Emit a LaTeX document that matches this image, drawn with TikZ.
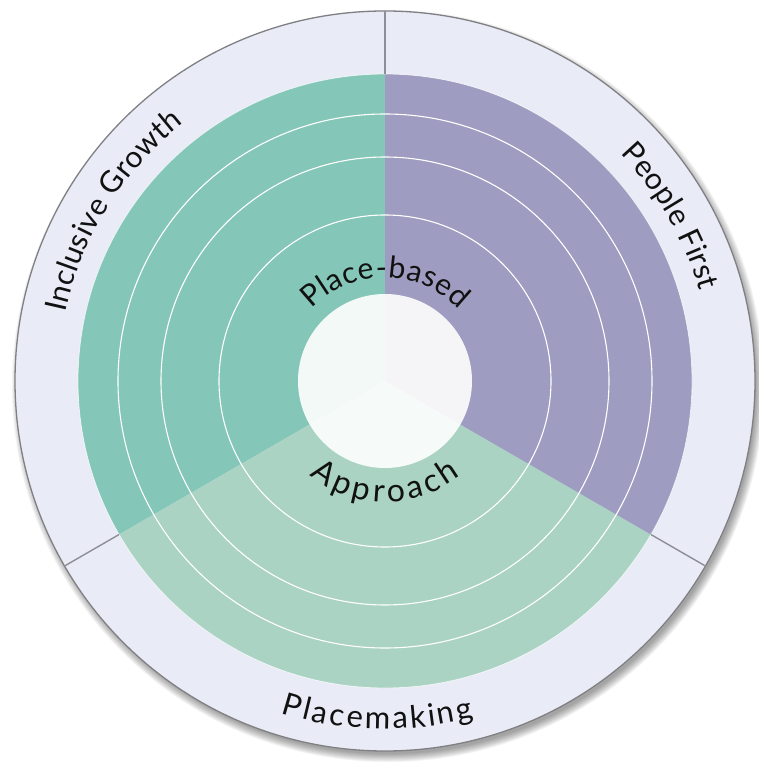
\documentclass[tikz,border=0pt]{standalone}
\usepackage{fontspec}
\usetikzlibrary{decorations.text}
\newfontfamily\lab{Lato}
\definecolor{ringbg}{HTML}{E9EBF6}
\definecolor{tealc}{HTML}{84C6B7}
\definecolor{purplec}{HTML}{9E9CC0}
\definecolor{greenc}{HTML}{AAD3C3}
\definecolor{edgec}{HTML}{808084}
\definecolor{divc}{HTML}{8E8E96}
\definecolor{txt}{HTML}{111111}
\tikzset{
  ringline/.style={draw=white, line width=1.1pt},
  divider/.style={draw=divc, line width=1.4pt},
  arctext/.style={decorate, decoration={text along path, text align=center, text color=txt}},
}
\begin{document}
\begin{tikzpicture}
\useasboundingbox (-385pt,-381pt) rectangle (374pt,381pt);
\coordinate (c) at (0,0);
% soft shadow
\foreach \k in {0,...,9}
  \fill[black, opacity=0.045] (3pt,-5pt) circle[radius={368pt+\k*0.9pt}];
% outer ring
\fill[ringbg] (c) circle[radius=370pt];
\draw[edgec, line width=1.3pt] (c) circle[radius=370pt];
% sectors
\fill[tealc] (c) -- (90:307pt) arc[start angle=90, end angle=210, radius=307pt] -- cycle;
\fill[greenc] (c) -- (210:307pt) arc[start angle=210, end angle=330, radius=307pt] -- cycle;
\fill[purplec] (c) -- (330:307pt) arc[start angle=330, end angle=450, radius=307pt] -- cycle;
\draw[white, opacity=0.7, line width=0.8pt] (c) circle[radius=307pt];
% rings
\foreach \r in {267,224,166}
  \draw[ringline] (c) circle[radius=\r pt];
% centre
\fill[white, opacity=0.9] (c) circle[radius=87pt];
% dividers
\coordinate (d1a) at (90:307pt);  \coordinate (d1b) at (90:370pt);
\coordinate (d2a) at (210:307pt); \coordinate (d2b) at (210:370pt);
\coordinate (d3a) at (330:307pt); \coordinate (d3b) at (330:370pt);
\draw[divider] (d1a) -- (d1b);
\draw[divider] (d2a) -- (d2b);
\draw[divider] (d3a) -- (d3b);
% texts
\path[arctext, decoration={text={|\lab\fontsize{30}{36}\selectfont\kern0.3pt|Inclusive Growth}}]
  (198:327pt) arc[start angle=198, end angle=98, radius=327pt];
\path[arctext, decoration={text={|\lab\fontsize{30}{36}\selectfont\kern0.3pt|People First}}]
  (80:327pt) arc[start angle=80, end angle=-20, radius=327pt];
\path[arctext, decoration={text={|\lab\fontsize{31}{36}\selectfont\kern2.6pt|Placemaking}}]
  (218.5:348pt) arc[start angle=218.5, end angle=318.5, radius=348pt];
\path[arctext, decoration={text={|\lab\fontsize{30}{34}\selectfont\kern0.6pt|Place-based}}]
  (175:103pt) arc[start angle=175, end angle=5, radius=103pt];
\path[arctext, decoration={text={|\lab\fontsize{32}{36}\selectfont\kern3.8pt|Approach}}]
  (189:121pt) arc[start angle=189, end angle=349, radius=121pt];
\end{tikzpicture}
\end{document}
